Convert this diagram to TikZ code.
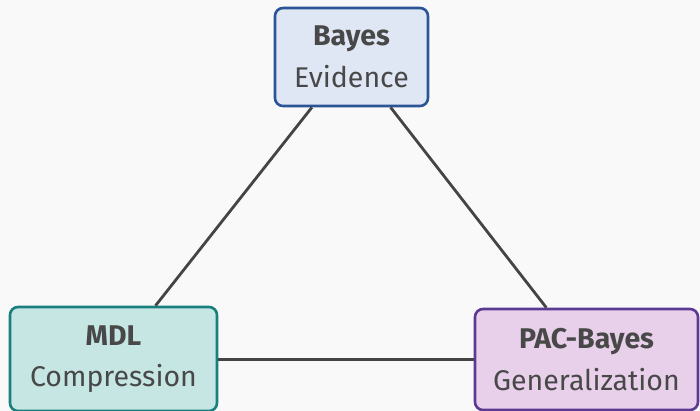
\documentclass[tikz,border=0pt]{standalone}
\usepackage{fontspec}
\setmainfont{Fira Sans}
\definecolor{bgc}{HTML}{F9F9F9}
\definecolor{linec}{HTML}{444444}
\definecolor{txtc}{HTML}{484848}
\definecolor{bayesb}{HTML}{2C5597}
\definecolor{bayesf}{HTML}{E0E7F4}
\definecolor{mdlb}{HTML}{1A7F7F}
\definecolor{mdlf}{HTML}{C6E6E4}
\definecolor{pacb}{HTML}{5C3A93}
\definecolor{pacf}{HTML}{E8D0EA}
\tikzset{
  concept/.style={draw, line width=2.6pt, rounded corners=8pt, align=center,
    text=txtc, inner sep=0pt,
    font=\fontsize{28.5}{41.5}\selectfont},
  link/.style={draw=linec, line width=2.8pt}
}
\begin{document}
\begin{tikzpicture}[x=1pt,y=-1pt]
\fill[bgc] (0,0) rectangle (700,411);
\useasboundingbox (0,0) rectangle (700,411);
\node[concept, draw=bayesb, fill=bayesf, minimum width=153pt, minimum height=98pt]
  (bayes) at (351.5,57) {\textbf{Bayes}\\Evidence};
\node[concept, draw=mdlb, fill=mdlf, minimum width=207pt, minimum height=104pt]
  (mdl) at (113.5,359) {\textbf{MDL}\\Compression};
\node[concept, draw=pacb, fill=pacf, minimum width=223pt, minimum height=101pt]
  (pac) at (586.5,359.5) {\textbf{PAC-Bayes}\\Generalization};
\draw[link] (bayes) -- (mdl);
\draw[link] (bayes) -- (pac);
\draw[link] (mdl.east |- 0,359.5) -- (pac.west);
\end{tikzpicture}
\end{document}
